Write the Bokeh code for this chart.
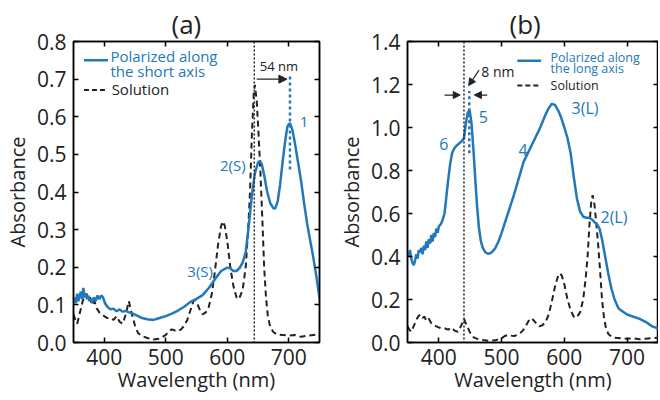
from bokeh.plotting import figure
from bokeh.models import (Range1d, LinearAxis, Span, Arrow, NormalHead, Label, FixedTicker,
                          PrintfTickFormatter, CustomJSTickFormatter)
from bokeh.layouts import row
from bokeh.embed import file_html
from bokeh.resources import INLINE

FONT = "Open Sans"
BLUE = "#2378b9"
DARK = "#222222"

# ---- data ----
sol_wl = [350, 353, 356, 359, 362, 365, 368, 371, 374, 377, 380, 384, 388, 392, 396, 400, 405, 410, 415,
          420, 425, 430, 435, 440, 445, 450, 455, 460, 470, 480, 490, 500, 505, 510, 515, 520, 525, 530,
          535, 540, 545, 548, 552, 556, 560, 565, 570, 575, 580, 585, 590, 593, 596, 600, 605, 610, 615,
          619, 625, 630, 634, 637, 640, 643, 645, 648, 651, 654, 657, 660, 663, 666, 670, 675, 680, 690,
          700, 710, 720, 730, 740, 750]
sol_abs = [0.075, 0.06, 0.05, 0.07, 0.09, 0.11, 0.125, 0.13, 0.115, 0.12, 0.10, 0.11, 0.09, 0.08, 0.075,
           0.07, 0.065, 0.065, 0.06, 0.07, 0.055, 0.05, 0.075, 0.11, 0.075, 0.045, 0.025, 0.018, 0.012,
           0.008, 0.01, 0.02, 0.03, 0.035, 0.032, 0.03, 0.035, 0.045, 0.06, 0.085, 0.11, 0.112, 0.10,
           0.085, 0.075, 0.08, 0.095, 0.13, 0.19, 0.26, 0.31, 0.322, 0.31, 0.27, 0.20, 0.15, 0.12, 0.115,
           0.14, 0.20, 0.30, 0.40, 0.55, 0.66, 0.685, 0.64, 0.55, 0.45, 0.33, 0.20, 0.12, 0.07, 0.04,
           0.028, 0.022, 0.02, 0.018, 0.02, 0.015, 0.018, 0.02, 0.022]

short_wl = [350, 352, 354, 356, 358, 360, 362, 364, 366, 368, 370, 372, 374, 376, 378, 380, 383, 386, 389,
            392, 395, 398, 401, 405, 410, 415, 420, 425, 430, 435, 440, 445, 450, 460, 470, 480, 490, 500,
            510, 520, 530, 540, 550, 560, 570, 580, 590, 600, 605, 610, 615, 620, 625, 630, 635, 640, 645,
            650, 653, 656, 660, 665, 670, 675, 678, 682, 686, 690, 695, 698, 702, 706, 710, 715, 720, 725,
            730, 735, 740, 745, 750]
short_abs = [0.10, 0.12, 0.105, 0.13, 0.11, 0.125, 0.135, 0.115, 0.145, 0.12, 0.13, 0.115, 0.125, 0.11,
             0.115, 0.105, 0.12, 0.11, 0.125, 0.115, 0.125, 0.12, 0.105, 0.095, 0.088, 0.09, 0.083, 0.088,
             0.082, 0.084, 0.08, 0.078, 0.074, 0.066, 0.062, 0.06, 0.065, 0.07, 0.077, 0.085, 0.095, 0.108,
             0.116, 0.126, 0.145, 0.168, 0.19, 0.199, 0.197, 0.19, 0.19, 0.198, 0.212, 0.24, 0.31, 0.39,
             0.45, 0.478, 0.483, 0.475, 0.445, 0.40, 0.37, 0.357, 0.356, 0.375, 0.42, 0.48, 0.545, 0.575,
             0.583, 0.565, 0.53, 0.48, 0.43, 0.37, 0.315, 0.27, 0.225, 0.175, 0.118]

long_wl = [350, 352, 354, 356, 358, 360, 362, 364, 366, 368, 370, 372, 374, 376, 378, 380, 382, 384, 386,
           388, 390, 392, 394, 396, 398, 400, 403, 406, 409, 412, 415, 418, 421, 424, 428, 432, 436, 440,
           443, 446, 449, 452, 455, 458, 461, 464, 467, 470, 474, 478, 482, 486, 490, 495, 500, 510, 520,
           530, 535, 540, 545, 550, 560, 570, 575, 580, 585, 590, 595, 600, 605, 610, 615, 620, 625, 630,
           635, 640, 645, 648, 652, 656, 660, 665, 670, 675, 680, 686, 690, 700, 710, 720, 730, 740, 750]
long_abs = [0.42, 0.40, 0.43, 0.39, 0.37, 0.36, 0.38, 0.41, 0.39, 0.43, 0.42, 0.44, 0.41, 0.45, 0.43, 0.47,
            0.44, 0.48, 0.46, 0.50, 0.47, 0.51, 0.49, 0.53, 0.51, 0.54, 0.55, 0.57, 0.60, 0.68, 0.76, 0.83,
            0.88, 0.90, 0.915, 0.925, 0.935, 0.95, 1.02, 1.07, 1.08, 1.02, 0.90, 0.76, 0.63, 0.53, 0.47,
            0.44, 0.42, 0.413, 0.415, 0.425, 0.44, 0.47, 0.51, 0.60, 0.69, 0.79, 0.84, 0.87, 0.90, 0.93,
            0.99, 1.06, 1.09, 1.11, 1.105, 1.08, 1.045, 1.00, 0.95, 0.88, 0.77, 0.67, 0.61, 0.585, 0.58,
            0.58, 0.57, 0.56, 0.55, 0.53, 0.48, 0.40, 0.32, 0.25, 0.20, 0.16, 0.15, 0.13, 0.12, 0.11,
            0.095, 0.075, 0.065]

x_ticks = [400, 500, 600, 700]
y_ticks_a = [0.0, 0.1, 0.2, 0.3, 0.4, 0.5, 0.6, 0.7, 0.8]
y_ticks_b = [0.0, 0.2, 0.4, 0.6, 0.8, 1.0, 1.2, 1.4]

sol_peak_a, pol_peak_a = 644, 702
sol_peak_b, pol_peak_b = 440, 448.5


def style_axis(ax, ticks, fmt=None, labels=True):
    ax.ticker = FixedTicker(ticks=ticks)
    if fmt:
        ax.formatter = PrintfTickFormatter(format=fmt)
    ax.major_tick_in = 5
    ax.major_tick_out = 0
    ax.minor_tick_in = 0
    ax.minor_tick_out = 0
    ax.minor_tick_line_color = None
    ax.axis_line_color = "black"
    ax.axis_line_width = 1.5
    ax.major_tick_line_width = 1.5
    ax.major_tick_line_color = "black"
    ax.major_label_text_font = FONT
    ax.major_label_text_color = DARK
    ax.major_label_text_font_size = "21px"
    ax.major_label_standoff = 7
    ax.axis_label_text_font = FONT
    ax.axis_label_text_font_style = "normal"
    ax.axis_label_text_font_size = "20px"
    ax.axis_label_text_color = DARK
    ax.axis_label_standoff = 3
    if not labels:
        ax.formatter = CustomJSTickFormatter(code="return ''")
        ax.major_label_text_font_size = "0px"
        ax.major_label_standoff = 0
        ax.axis_label_standoff = 0


def make_panel(width, left, right, ymax, yticks, title, title_off):
    p = figure(width=width, height=395, x_range=Range1d(350, 750), y_range=Range1d(0, ymax),
               output_backend="svg", toolbar_location=None,
               min_border_left=left, min_border_right=right, min_border_top=41, min_border_bottom=52)
    p.grid.visible = False
    p.outline_line_color = "black"
    p.outline_line_width = 1.5
    p.background_fill_color = "white"
    p.title.text = title
    p.title.text_font = FONT
    p.title.text_font_size = "26px"
    p.title.text_font_style = "normal"
    p.title.text_color = DARK
    p.title.align = "left"
    p.title.offset = title_off
    p.title.standoff = 0
    style_axis(p.xaxis[0], x_ticks)
    p.xaxis[0].major_label_standoff = 6
    p.xaxis[0].axis_label_standoff = -2
    style_axis(p.yaxis[0], yticks, "%.1f")
    p.xaxis.axis_label = "Wavelength (nm)"
    p.yaxis.axis_label = "Absorbance"
    top = LinearAxis()
    style_axis(top, x_ticks, labels=False)
    p.add_layout(top, "above")
    rt = LinearAxis()
    style_axis(rt, yticks, labels=False)
    p.add_layout(rt, "right")
    return p


def lbl(p, x, y, text, size, color, align="center"):
    p.add_layout(Label(x=x, y=y, text=text, text_font=FONT, text_font_size=size, text_color=color,
                       text_align=align, text_baseline="middle"))


# ---- panel (a) ----
pa = make_panel(328, 67, 9, 0.8, y_ticks_a, "(a)", 98)
pa.add_layout(Span(location=sol_peak_a, dimension="height", line_color=DARK, line_width=1.5, line_dash="2 2"))
pa.line(sol_wl, sol_abs, line_color=DARK, line_width=2, line_dash="6 4")
pa.line(short_wl, short_abs, line_color=BLUE, line_width=2.5)
pa.segment(x0=[pol_peak_a], y0=[0.46], x1=[pol_peak_a], y1=[0.71], line_color=BLUE, line_width=2.5, line_dash="3 3")
pa.add_layout(Arrow(end=NormalHead(size=8, fill_color=DARK, line_color=DARK), x_start=sol_peak_a + 4, y_start=0.70,
                    x_end=pol_peak_a - 5, y_end=0.70, line_color=DARK, line_width=1.2))
lbl(pa, 684, 0.735, "54 nm", "13px", DARK)
lbl(pa, 725, 0.585, "1", "15px", BLUE)
lbl(pa, 609, 0.472, "2(S)", "15px", BLUE)
lbl(pa, 556, 0.19, "3(S)", "15px", BLUE)
# legend (a)
pa.segment(x0=[367], y0=[0.75], x1=[406], y1=[0.75], line_color=BLUE, line_width=2.5)
pa.segment(x0=[367], y0=[0.671], x1=[406], y1=[0.671], line_color=DARK, line_width=2, line_dash="5 3")
lbl(pa, 410, 0.762, "Polarized along", "15px", BLUE, "left")
lbl(pa, 410, 0.722, "the short axis", "15px", BLUE, "left")
lbl(pa, 412, 0.673, "Solution", "15px", DARK, "left")

# ---- panel (b) ----
pb = make_panel(330, 79, 0, 1.4, y_ticks_b, "(b)", 102)
pb.add_layout(Span(location=sol_peak_b, dimension="height", line_color=DARK, line_width=1.5, line_dash="2 2"))
pb.line(sol_wl, sol_abs, line_color=DARK, line_width=2, line_dash="6 4")
pb.line(long_wl, long_abs, line_color=BLUE, line_width=2.5)
pb.segment(x0=[pol_peak_b], y0=[0.88], x1=[pol_peak_b], y1=[1.17], line_color=BLUE, line_width=2.5, line_dash="3 3")
head = dict(size=7, fill_color=DARK, line_color=DARK)
pb.add_layout(Arrow(end=NormalHead(**head), x_start=409, y_start=1.151, x_end=sol_peak_b - 6, y_end=1.151,
                    line_color=DARK, line_width=1.2))
pb.add_layout(Arrow(end=NormalHead(**head), x_start=477, y_start=1.151, x_end=pol_peak_b + 8, y_end=1.151,
                    line_color=DARK, line_width=1.2))
pb.add_layout(Arrow(end=NormalHead(**head), x_start=464, y_start=1.267, x_end=pol_peak_b - 1, y_end=1.195,
                    line_color=DARK, line_width=1.2))
lbl(pb, 494, 1.262, "8 nm", "14px", DARK)
lbl(pb, 408, 0.924, "6", "16px", BLUE)
lbl(pb, 471, 1.048, "5", "16px", BLUE)
lbl(pb, 534, 0.896, "4", "16px", BLUE)
lbl(pb, 633, 1.089, "3(L)", "16px", BLUE)
lbl(pb, 679, 0.583, "2(L)", "16px", BLUE)
# legend (b)
pb.segment(x0=[525], y0=[1.311], x1=[563], y1=[1.311], line_color=BLUE, line_width=2.5)
pb.segment(x0=[525], y0=[1.195], x1=[563], y1=[1.195], line_color=DARK, line_width=2, line_dash="5 3")
lbl(pb, 578, 1.326, "Polarized along", "12.5px", BLUE, "left")
lbl(pb, 578, 1.275, "the long axis", "12.5px", BLUE, "left")
lbl(pb, 578, 1.197, "Solution", "12.5px", DARK, "left")

layout = row(pa, pb)
open("out.html", "w").write(file_html(layout, INLINE))
